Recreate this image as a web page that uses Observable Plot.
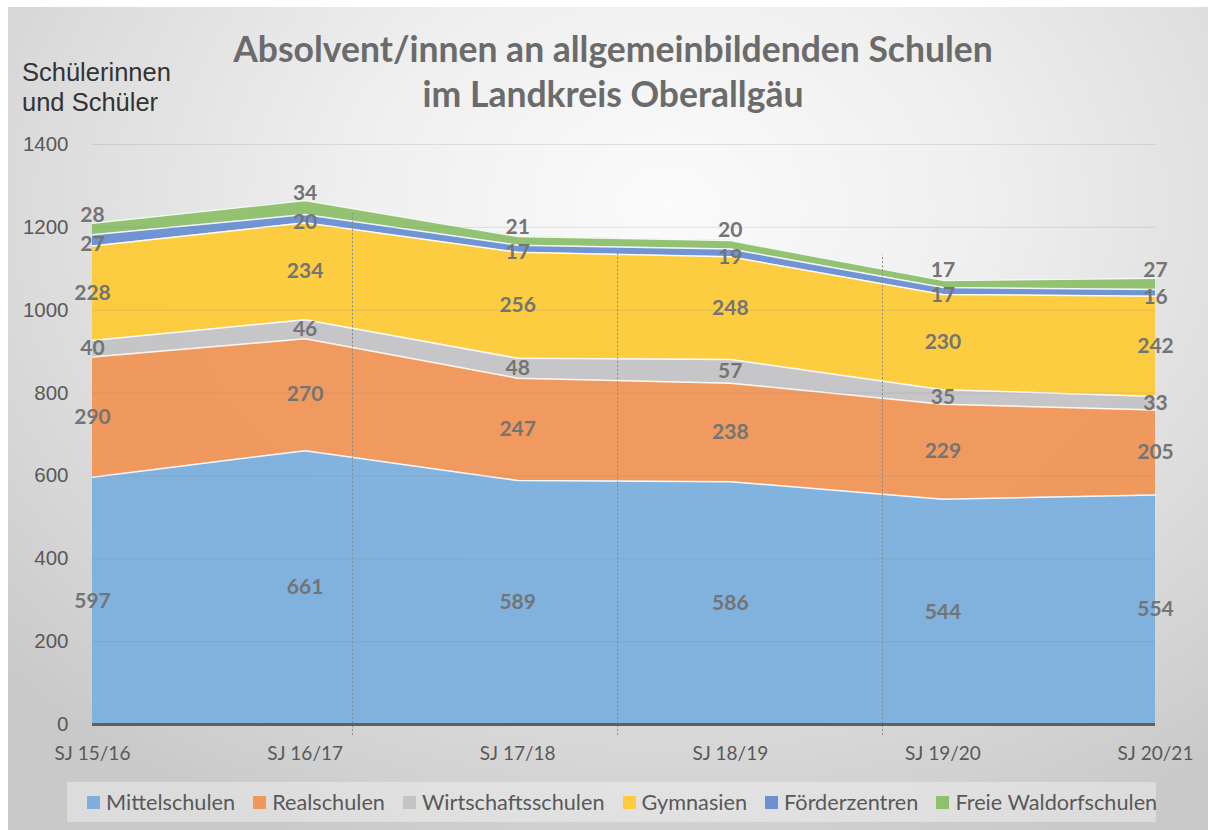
<!DOCTYPE html>
<html>
<head>
<meta charset="utf-8">
<script src="https://cdn.jsdelivr.net/npm/d3@7"></script>
<script src="https://cdn.jsdelivr.net/npm/@observablehq/plot@0.6"></script>
<style>
  html, body { margin: 0; padding: 0; background: #fff; width: 1208px; height: 830px; overflow: hidden; }
  #panel { position: absolute; left: 8px; top: 7px; width: 1200px; height: 823px;
    background: radial-gradient(ellipse 75% 85% at 55% 24%, #fbfbfb 0%, #efefef 35%, #dcdcdc 70%, #c9c9c9 100%); }
  #chart { position: absolute; left: 0; top: 0; }
  #title { position: absolute; left: 0; width: 1226px; top: 26px; text-align: center;
    font-family: Lato, "Open Sans", sans-serif; font-weight: 700; font-size: 35.5px; line-height: 45px; color: #6b6b6b; }
  #ylabel { position: absolute; left: 22px; top: 57px; font-family: "Liberation Sans", Arial, sans-serif;
    font-size: 25.5px; line-height: 30px; color: #333; }
  #legend { position: absolute; left: 67px; top: 782px; width: 1089px; height: 40px; box-sizing: border-box;
    background: rgba(255,255,255,0.35); display: flex; align-items: center; padding-left: 20px; gap: 18px;
    font-family: Lato, sans-serif; font-size: 21.7px; color: #595959; white-space: nowrap; }
  #legend .item { display: flex; align-items: center; gap: 6px; flex-shrink: 0; }
  #legend .sw { width: 13px; height: 13px; display: inline-block; }
</style>
</head>
<body>
<div id="panel"></div>
<div id="chart"></div>
<div id="title">Absolvent/innen an allgemeinbildenden Schulen<br>im Landkreis Oberallgäu</div>
<div id="ylabel">Schülerinnen<br>und Schüler</div>
<div id="legend"></div>
<script>
const years = ["SJ 15/16", "SJ 16/17", "SJ 17/18", "SJ 18/19", "SJ 19/20", "SJ 20/21"];
const seriesNames = ["Mittelschulen", "Realschulen", "Wirtschaftsschulen", "Gymnasien", "Förderzentren", "Freie Waldorfschulen"];
const seriesColors = ["#7eafdd", "#f0975b", "#c4c4c6", "#fdcb3b", "#6b91d3", "#8fc06e"];
const mittelschulen = [597, 661, 589, 586, 544, 554];
const realschulen = [290, 270, 247, 238, 229, 205];
const wirtschaftsschulen = [40, 46, 48, 57, 35, 33];
const gymnasien = [228, 234, 256, 248, 230, 242];
const foerderzentren = [27, 20, 17, 19, 17, 16];
const waldorfschulen = [28, 34, 21, 20, 17, 27];
const yTicks = [0, 200, 400, 600, 800, 1000, 1200, 1400];
// faint dotted separators visible in the original image (x in category units, top in data units)
const dividerX = [1.223, 2.47, 3.716];
const dividerTop = [1233, 1137, 1133];

const seriesValues = [mittelschulen, realschulen, wirtschaftsschulen, gymnasien, foerderzentren, waldorfschulen];
const rows = [];
seriesNames.forEach((s, k) => seriesValues[k].forEach((v, i) => rows.push({series: s, i, value: v, k})));

// label positions: middle of each stacked band
const labels = [];
years.forEach((y, i) => {
  let base = 0;
  seriesValues.forEach((vals, k) => {
    const v = vals[i];
    labels.push({i, mid: base + v / 2, value: v, k});
    base += v;
  });
});
const labelDy = [0, 0, 0, 0, 4, -14];
const dividers = dividerX.map((x, j) => ({x, top: dividerTop[j]}));

const font = "Lato, sans-serif";
const labelMarks = seriesNames.map((s, k) =>
  Plot.text(labels.filter(d => d.k === k), {x: "i", y: "mid", text: d => String(d.value), dy: labelDy[k],
    fontFamily: font, fontWeight: 700, fontSize: 21, fill: "#747474"}));

const plot = Plot.plot({
  width: 1208, height: 830,
  marginLeft: 92, marginRight: 53, marginTop: 144, marginBottom: 106,
  style: {background: "transparent", overflow: "visible"},
  x: {type: "linear", domain: [0, 5], axis: null},
  y: {domain: [0, 1400], axis: null},
  color: {domain: seriesNames, range: seriesColors},
  marks: [
    Plot.areaY(rows, {x: "i", y: "value", z: "series", fill: "series", fillOpacity: 0.97}),
    Plot.lineY(rows, Plot.stackY2({x: "i", y: "value", z: "series", stroke: "#ffffff", strokeWidth: 1.5, strokeOpacity: 0.9})),
    Plot.ruleY(yTicks.filter(d => d > 0), {stroke: "#888", strokeOpacity: 0.22, strokeWidth: 1}),
    Plot.ruleX(dividers, {x: "x", y1: -27, y2: "top", stroke: "#8a8a8a", strokeDasharray: "2,2", strokeWidth: 1}),
    Plot.ruleY([0], {stroke: "#5f5f5f", strokeWidth: 3}),
    ...labelMarks,
    Plot.axisX({ticks: [0, 1, 2, 3, 4, 5], tickFormat: i => years[i], tickSize: 0, tickPadding: 22,
      fontSize: 19, fontFamily: font, fill: "#595959"}),
    Plot.axisY({ticks: yTicks, tickFormat: d => String(d), tickSize: 0, tickPadding: 24,
      fontSize: 20.5, fontFamily: "'Liberation Sans', Arial, sans-serif", fill: "#595959"})
  ]
});
document.getElementById("chart").appendChild(plot);

const legend = document.getElementById("legend");
seriesNames.forEach((s, k) => {
  const item = document.createElement("div");
  item.className = "item";
  const sw = document.createElement("span");
  sw.className = "sw";
  sw.style.background = seriesColors[k];
  const t = document.createElement("span");
  t.textContent = s;
  item.appendChild(sw); item.appendChild(t);
  legend.appendChild(item);
});
</script>
</body>
</html>
